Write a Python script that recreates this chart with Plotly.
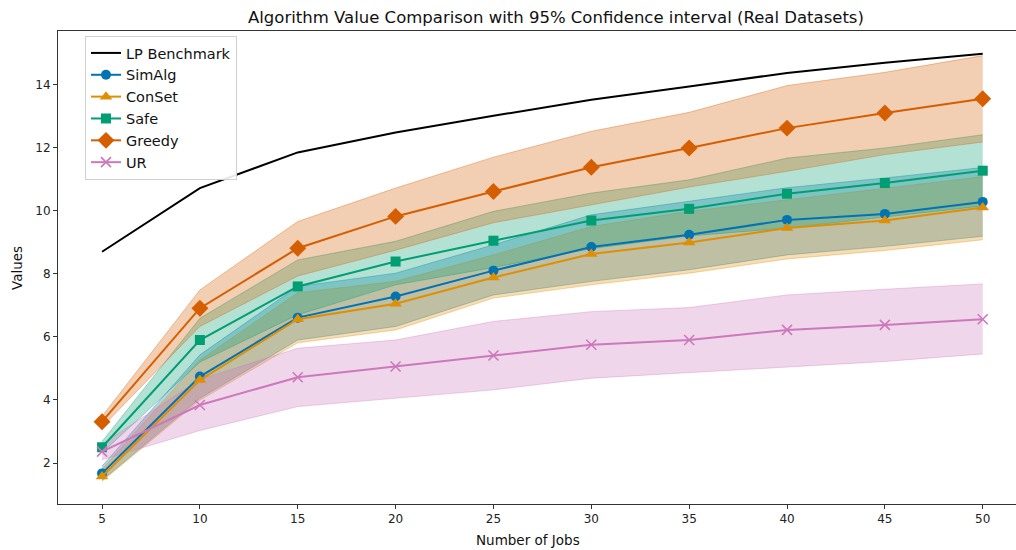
import plotly.graph_objects as go

jobs = [5, 10, 15, 20, 25, 30, 35, 40, 45, 50]
x_ticks = [5, 10, 15, 20, 25, 30, 35, 40, 45, 50]
y_ticks = [2, 4, 6, 8, 10, 12, 14]

lp_benchmark = [8.70, 10.72, 11.85, 12.48, 13.01, 13.52, 13.94, 14.37, 14.69, 14.98]

simalg_mean = [1.67, 4.74, 6.61, 7.28, 8.10, 8.85, 9.24, 9.71, 9.90, 10.28]
simalg_upper = [1.90, 5.43, 7.60, 8.02, 8.92, 9.87, 10.30, 10.73, 11.04, 11.37]
simalg_lower = [1.45, 4.05, 5.90, 6.33, 7.33, 7.76, 8.13, 8.60, 8.87, 9.19]

conset_mean = [1.57, 4.63, 6.56, 7.05, 7.88, 8.63, 8.99, 9.45, 9.69, 10.10]
conset_upper = [1.80, 5.27, 7.40, 7.76, 8.60, 9.50, 9.98, 10.35, 10.72, 11.08]
conset_lower = [1.42, 3.99, 5.81, 6.22, 7.23, 7.65, 8.02, 8.47, 8.74, 9.08]

safe_mean = [2.50, 5.90, 7.60, 8.39, 9.05, 9.69, 10.06, 10.54, 10.88, 11.27]
safe_upper = [2.68, 6.59, 8.44, 9.03, 9.98, 10.56, 10.98, 11.67, 11.99, 12.41]
safe_lower = [2.32, 5.20, 6.70, 7.65, 8.20, 8.80, 9.20, 9.45, 9.80, 10.15]

greedy_mean = [3.31, 6.91, 8.81, 9.82, 10.61, 11.38, 11.99, 12.62, 13.10, 13.55]
greedy_upper = [3.48, 7.49, 9.66, 10.72, 11.70, 12.52, 13.12, 13.97, 14.39, 14.92]
greedy_lower = [3.14, 6.33, 7.93, 8.75, 9.62, 10.19, 10.75, 11.25, 11.78, 12.18]

ur_mean = [2.36, 3.84, 4.72, 5.06, 5.41, 5.75, 5.90, 6.22, 6.38, 6.56]
ur_upper = [2.60, 4.65, 5.64, 5.90, 6.49, 6.80, 6.93, 7.33, 7.51, 7.68]
ur_lower = [2.10, 3.03, 3.79, 4.05, 4.32, 4.69, 4.87, 5.06, 5.22, 5.46]

series = [
    ("SimAlg", simalg_mean, simalg_upper, simalg_lower, (1, 115, 178), "circle", 10),
    ("ConSet", conset_mean, conset_upper, conset_lower, (222, 143, 5), "triangle-up", 11),
    ("Safe", safe_mean, safe_upper, safe_lower, (2, 158, 115), "square", 10),
    ("Greedy", greedy_mean, greedy_upper, greedy_lower, (213, 94, 0), "diamond", 13),
    ("UR", ur_mean, ur_upper, ur_lower, (204, 120, 188), "x-thin", 10),
]

FONT = "DejaVu Sans"
fig = go.Figure()

# confidence bands
for name, mean, up, lo, rgb, sym, sz in series:
    r, g, b = rgb
    fig.add_trace(go.Scatter(x=jobs, y=up, mode="lines",
                             line=dict(color=f"rgba({r},{g},{b},0.35)", width=1),
                             showlegend=False, hoverinfo="skip"))
    fig.add_trace(go.Scatter(x=jobs, y=lo, mode="lines", fill="tonexty",
                             fillcolor=f"rgba({r},{g},{b},0.3)",
                             line=dict(color=f"rgba({r},{g},{b},0.35)", width=1),
                             showlegend=False, hoverinfo="skip"))

fig.add_trace(go.Scatter(x=jobs, y=lp_benchmark, mode="lines", name="LP Benchmark",
                         line=dict(color="black", width=2)))

for name, mean, up, lo, rgb, sym, sz in series:
    r, g, b = rgb
    col = f"rgb({r},{g},{b})"
    marker = dict(symbol=sym, size=sz, color=col)
    if sym == "x-thin":
        marker["line"] = dict(color=col, width=1.6)
    fig.add_trace(go.Scatter(x=jobs, y=mean, mode="lines+markers", name=name,
                             line=dict(color=col, width=2), marker=marker))

L, R, T, B = 58, 0, 31, 46
W, H = 1016, 550
pw = W - L - R
ph = H - T - B

def px_x(px):
    return (px - L) / pw

def px_y(py):
    return (H - B - py) / ph

fig.update_layout(
    width=W, height=H,
    margin=dict(l=L, r=R, t=T, b=B),
    paper_bgcolor="white", plot_bgcolor="white",
    font=dict(family=FONT, size=12, color="#222"),
    showlegend=True,
    legend=dict(x=px_x(85), y=px_y(36), xanchor="left", yanchor="top",
                traceorder="normal",
                bgcolor="rgba(255,255,255,0.9)", bordercolor="#d0d0d0", borderwidth=1,
                font=dict(family=FONT, size=14.5, color="#111")),
    xaxis=dict(range=[2.75, 51.7], tickvals=x_ticks, ticks="outside", ticklen=4,
               tickcolor="#333", showline=True, linecolor="#333", linewidth=1,
               mirror=True, showgrid=False, zeroline=False,
               tickfont=dict(family=FONT, size=12, color="#222")),
    yaxis=dict(range=[0.7, 15.7], tickvals=y_ticks, ticks="outside", ticklen=4,
               tickcolor="#333", showline=True, linecolor="#333", linewidth=1,
               showgrid=False, zeroline=False,
               tickfont=dict(family=FONT, size=12, color="#222")),
    annotations=[
        dict(text="Algorithm Value Comparison with 95% Confidence interval (Real Datasets)",
             xref="paper", yref="paper", x=px_x(556), y=px_y(18),
             xanchor="center", yanchor="middle", showarrow=False,
             font=dict(family=FONT, size=16.5, color="#111")),
        dict(text="Number of Jobs", xref="paper", yref="paper",
             x=px_x(528), y=px_y(540), xanchor="center", yanchor="middle",
             showarrow=False, font=dict(family=FONT, size=13.5, color="#111")),
        dict(text="Values", xref="paper", yref="paper", textangle=-90,
             x=px_x(17), y=px_y(268), xanchor="center", yanchor="middle",
             showarrow=False, font=dict(family=FONT, size=13.5, color="#111")),
    ],
)

fig.write_html("out.html", config={"displayModeBar": False},
               post_script="document.body.style.margin='0';")
